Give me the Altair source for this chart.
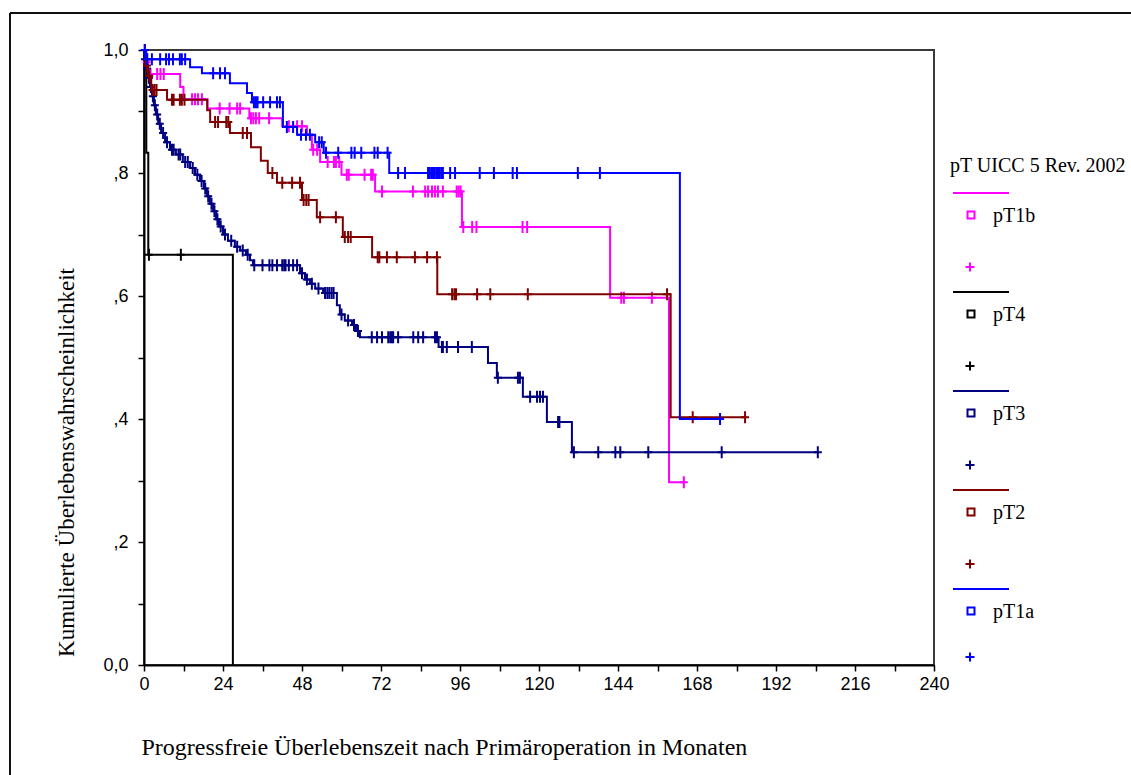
import altair as alt
import pandas as pd

# Groups in legend order, with their line colours
groups = ["pT1b", "pT4", "pT3", "pT2", "pT1a"]
colors = ["#ff00ff", "#000000", "#000080", "#800000", "#0000ff"]

# Kaplan-Meier steps: months, cumulative survival after each event (last entry = end of follow-up)
pT1b_time = [0, 0.5, 1.2, 11.0, 12.0, 19.3, 32.0, 42.0, 49.5, 51.0, 53.5, 60.0, 70.2, 96.6, 141.6, 159.5, 164.0]
pT1b_surv = [1.0, 0.980, 0.961, 0.940, 0.920, 0.905, 0.889, 0.876, 0.862, 0.838, 0.818, 0.797, 0.770, 0.712, 0.597, 0.297, 0.297]
pT1b_censored = [0.8, 2.0, 4.0, 5.0, 6.0, 14.6, 15.5, 16.4, 17.6, 23.0, 26.0, 28.3, 29.2, 32.5, 33.2, 34.0,
                 35.0, 38.0, 44.0, 46.5, 48.0, 51.4, 52.6, 55.8, 57.7, 58.3, 59.3, 61.6, 62.2, 67.0, 69.0,
                 69.5, 72.3, 81.7, 85.4, 86.3, 87.5, 88.4, 89.3, 90.8, 95.0, 95.6, 96.2, 97.0, 99.7, 101.0,
                 115.0, 116.4, 145.0, 145.8, 154.3, 164.0]

pT4_time = [0, 0.7, 1.3, 27.0]
pT4_surv = [1.0, 0.833, 0.667, 0.0]
pT4_censored = [1.5, 11.2]

pT3_time = [0, 0.15, 0.6, 1.2, 1.8, 2.4, 3.0, 3.6, 4.3, 5.2, 6.4, 7.9, 9.7, 11.8, 14.0, 15.5, 17.0, 18.2,
            19.1, 20.0, 21.0, 21.9, 22.8, 24.0, 25.5, 27.6, 29.2, 31.0, 32.2, 33.1, 47.4, 48.9, 50.4, 52.0,
            54.4, 58.6, 59.5, 61.0, 63.2, 64.4, 65.6, 89.5, 104.5, 107.2, 115.1, 122.4, 130.0, 204.7]
pT3_surv = [1.0, 0.985, 0.970, 0.955, 0.940, 0.925, 0.910, 0.895, 0.880, 0.865, 0.850, 0.838, 0.830, 0.818,
            0.808, 0.797, 0.787, 0.775, 0.762, 0.750, 0.738, 0.725, 0.713, 0.700, 0.690, 0.680, 0.674,
            0.667, 0.658, 0.650, 0.637, 0.627, 0.620, 0.612, 0.605, 0.585, 0.570, 0.560, 0.553, 0.543,
            0.533, 0.517, 0.491, 0.467, 0.436, 0.395, 0.346, 0.346]
pT3_censored = [0.3, 0.9, 1.5, 2.1, 2.7, 3.3, 4.0, 4.8, 5.8, 7.0, 8.5, 9.0, 10.5, 11.0, 12.5, 13.3, 14.8,
                16.2, 17.5, 18.6, 19.5, 20.5, 21.4, 22.3, 23.3, 24.6, 26.5, 28.3, 30.0, 31.5, 33.5, 36.0,
                38.1, 39.0, 40.4, 42.0, 42.6, 43.0, 44.0, 45.3, 46.5, 48.0, 49.5, 51.0, 53.0, 55.0, 55.7,
                56.3, 57.0, 57.6, 60.0, 62.0, 63.8, 65.0, 69.2, 70.8, 72.3, 74.2, 74.8, 75.3, 75.7, 77.2,
                81.8, 83.3, 84.8, 88.4, 89.0, 90.5, 90.8, 92.0, 95.4, 99.6, 107.5, 113.6, 114.2, 117.3,
                119.4, 120.3, 121.2, 125.8, 126.2, 130.6, 138.0, 143.2, 144.7, 153.2, 175.5, 204.7]

pT2_time = [0, 0.5, 1.2, 2.2, 7.0, 19.2, 20.1, 26.1, 32.5, 35.5, 37.6, 40.4, 48.0, 52.5, 60.4, 69.3, 89.1,
            160.0, 182.6]
pT2_surv = [1.0, 0.975, 0.958, 0.935, 0.919, 0.902, 0.883, 0.865, 0.842, 0.820, 0.800, 0.784, 0.756, 0.728,
            0.696, 0.663, 0.603, 0.403, 0.403]
pT2_censored = [0.3, 0.9, 1.6, 2.6, 3.2, 3.8, 8.5, 9.0, 10.9, 11.5, 12.3, 21.6, 22.5, 25.0, 25.6, 30.0,
                31.3, 39.0, 42.0, 45.0, 47.4, 48.5, 49.3, 50.0, 53.5, 58.3, 61.0, 62.0, 62.8, 71.0, 71.5,
                73.8, 76.8, 82.3, 86.0, 89.0, 93.6, 94.3, 94.8, 101.2, 105.2, 116.6, 158.9, 166.7, 182.6]

pT1a_time = [0, 0.5, 14.0, 17.6, 26.1, 31.3, 32.8, 42.2, 46.5, 52.0, 54.6, 74.5, 162.8, 175.0]
pT1a_surv = [1.0, 0.985, 0.972, 0.962, 0.946, 0.930, 0.915, 0.875, 0.862, 0.850, 0.833, 0.800, 0.400, 0.400]
pT1a_censored = [0.2, 1.0, 2.4, 4.9, 6.7, 7.6, 8.8, 10.9, 11.5, 12.5, 21.0, 23.1, 24.6, 33.4, 34.0, 34.5,
                 36.2, 38.3, 40.4, 41.3, 43.4, 45.3, 47.7, 49.2, 50.4, 53.2, 54.0, 55.3, 59.0, 63.0, 64.0,
                 66.0, 70.0, 71.0, 74.0, 77.2, 79.3, 86.3, 86.8, 87.3, 87.8, 88.3, 88.8, 89.3, 89.8, 90.3,
                 90.8, 93.0, 94.5, 102.0, 106.3, 112.0, 113.3, 131.8, 138.5, 175.0]

series = {
    "pT1b": (pT1b_time, pT1b_surv, pT1b_censored),
    "pT4": (pT4_time, pT4_surv, pT4_censored),
    "pT3": (pT3_time, pT3_surv, pT3_censored),
    "pT2": (pT2_time, pT2_surv, pT2_censored),
    "pT1a": (pT1a_time, pT1a_surv, pT1a_censored),
}

x_title = "Progressfreie Überlebenszeit nach Primäroperation in Monaten"
y_title = "Kumulierte Überlebenswahrscheinlichkeit"
legend_title = "pT UICC 5 Rev. 2002"

PLOT_W, PLOT_H = 790, 615
PAD = {"left": 144, "top": 50, "right": 1131 - 144 - PLOT_W, "bottom": 775 - 50 - PLOT_H}

# Plus-shaped censor marker and a larger one for the legend
CENSOR = "M0,-1V1M-0.67,0H0.67"
PLUS = "M0,-1V1M-1,0H1"


def surv_at(times, survs, t):
    s = survs[0]
    for ti, si in zip(times, survs):
        if ti <= t:
            s = si
    return s


x_axis = alt.Axis(
    values=list(range(0, 241, 12)),
    labelExpr="datum.value % 24 === 0 ? datum.label : ''",
    labelFlush=False, labelOverlap=False,
    grid=False, tickSize=6, tickWidth=1.5, tickColor="black",
    domainColor="black", domainWidth=2,
    labelFont="Liberation Sans", labelFontSize=18, labelColor="black", labelPadding=4,
    title=x_title, titleFont="Liberation Serif", titleFontSize=24, titleFontWeight="normal",
    titleColor="black", titleAnchor="start", titleAlign="left", titleBaseline="alphabetic",
    titleX=-3, titleY=89,
)
y_axis = alt.Axis(
    values=[round(v * 0.1, 1) for v in range(11)],
    labelExpr=("datum.value == 0 ? '0,0' : datum.value == 1 ? '1,0' : "
               "(round(datum.value * 10) % 2 == 0 ? ',' + round(datum.value * 10) : '')"),
    labelFlush=False, labelOverlap=False,
    grid=False, tickSize=6, tickWidth=1.5, tickColor="black",
    domainColor="black", domainWidth=2,
    labelFont="Liberation Sans", labelFontSize=18, labelColor="black", labelPadding=10,
    title=y_title, titleFont="Liberation Serif", titleFontSize=23, titleFontWeight="normal",
    titleColor="black", titleAngle=270, titleAlign="center", titleBaseline="middle",
    titleX=-78, titleY=412,
)
x_enc = alt.X("t:Q", scale=alt.Scale(domain=[0, 240], nice=False, zero=False), axis=x_axis)
y_enc = alt.Y("s:Q", scale=alt.Scale(domain=[0, 1], nice=False, zero=False), axis=y_axis)

layers = []
for g, col in zip(groups, colors):
    times, survs, cens = series[g]
    curve = pd.DataFrame({"t": times, "s": survs})
    marks = pd.DataFrame({"t": cens, "s": [surv_at(times, survs, c) for c in cens]})
    layers.append(
        alt.Chart(curve).mark_line(interpolate="step-after", strokeWidth=2, color=col)
        .encode(x=x_enc, y=y_enc, order=alt.Order("t:Q"))
    )
    layers.append(
        alt.Chart(marks).mark_point(shape=CENSOR, filled=False, size=144, strokeWidth=2,
                                    color=col, opacity=1)
        .encode(x=x_enc, y=y_enc)
    )

one = pd.DataFrame({"k": [0]})

# Outer frame around the figure (top and left edges)
layers.append(alt.Chart(one).mark_rule(color="#111111", strokeWidth=2).encode(
    x=alt.value(-134), x2=alt.value(PLOT_W + PAD["right"]), y=alt.value(-37)))
layers.append(alt.Chart(one).mark_rule(color="#111111", strokeWidth=2).encode(
    x=alt.value(-134), y=alt.value(-37), y2=alt.value(PLOT_H + PAD["bottom"])))

# Legend: title, then per group a line, a hollow square with label and a censor plus
LX = 806
layers.append(alt.Chart(one).mark_text(
    text=legend_title, font="Liberation Serif", fontSize=20, align="left", baseline="middle",
    color="black").encode(x=alt.value(LX), y=alt.value(116)))
for i, (g, col) in enumerate(zip(groups, colors)):
    top = 143 + 99 * i
    plus_y = min(top + 74, 607)
    layers.append(alt.Chart(one).mark_rule(color=col, strokeWidth=2).encode(
        x=alt.value(LX + 3), x2=alt.value(LX + 59), y=alt.value(top)))
    layers.append(alt.Chart(one).mark_point(shape="square", filled=False, size=49, strokeWidth=2,
                                            color=col, opacity=1).encode(
        x=alt.value(LX + 21), y=alt.value(top + 22)))
    layers.append(alt.Chart(one).mark_text(
        text=g, font="Liberation Serif", fontSize=20, align="left", baseline="middle",
        color="black").encode(x=alt.value(LX + 43), y=alt.value(top + 23)))
    layers.append(alt.Chart(one).mark_point(shape=PLUS, filled=False, size=81, strokeWidth=2,
                                            color=col, opacity=1).encode(
        x=alt.value(LX + 20), y=alt.value(plus_y)))

chart = (
    alt.layer(*layers)
    .properties(width=PLOT_W, height=PLOT_H, autosize=alt.AutoSizeParams(type="none"),
                padding=PAD, background="white")
    .configure_view(stroke="#3a3a3a", strokeWidth=2)
)

chart.save("out.html", embed_options={"renderer": "svg", "actions": False})
